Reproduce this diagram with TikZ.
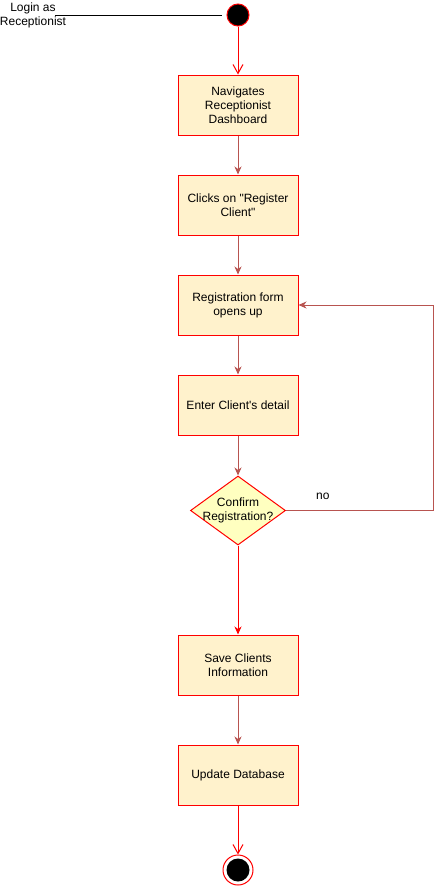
\documentclass[tikz,border=0pt]{standalone}
\usepackage{fontspec}
\setmainfont{Liberation Sans}[Ligatures=TeXOff]
\usepackage{tikz}
\usetikzlibrary{shapes.geometric, arrows.meta}
\definecolor{actfill}{HTML}{FFF2CC}
\definecolor{decfill}{HTML}{FFFFC0}
\definecolor{flowred}{HTML}{B85450}
\tikzset{
every node/.style={font=\fontsize{12pt}{14pt}\selectfont, align=center}, % default text for every node
action/.style={rectangle, draw=red, fill=actfill, line width=1pt, minimum width=120pt, minimum height=60pt, inner sep=0pt}, % activity boxes
decision/.style={diamond, draw=red, fill=decfill, line width=1pt, minimum width=95pt, minimum height=69pt, inner sep=0pt}, % the question
flow/.style={draw=flowred, line width=1pt, -{Stealth[length=8pt, width=7pt, inset=2.5pt]}}, % normal arrows
redflow/.style={draw=red, line width=1pt, -{Stealth[length=8pt, width=7pt, inset=2.5pt]}}, % red arrow after the question
openflow/.style={draw=red, line width=1pt, -{Straight Barb[length=9pt, width=10pt]}}, % open arrow heads
}

\begin{document}
\begin{tikzpicture}[x=1pt, y=-1pt]
\useasboundingbox (0, 0) rectangle (442, 886);

\node at (33, 15) (login) {Login as\\Receptionist};
\coordinate (loginline) at (55, 15);
\node[circle, draw=red, fill=black, line width=1pt, minimum size=22pt, inner sep=0pt] at (238, 15) (start) {};

\node[action] at (238, 105) (navigate) {Navigates\\Receptionist\\Dashboard};
\node[action] at (238, 205) (register) {Clicks on "Register\\Client"};
\node[action] at (238, 305) (form) {Registration form\\opens up};
\node[action] at (238, 405) (detail) {Enter Client's detail};
\node[decision, label={[align=center]center:Confirm\\Registration?}] at (238, 510.5) (confirm) {};
\node[action] at (238, 665) (save) {Save Clients\\Information};
\node[action] at (238, 775) (update) {Update Database};
\node[circle, draw=red, fill=white, line width=1pt, minimum size=30pt, inner sep=0pt,
  path picture={\fill[black] (path picture bounding box.center) circle (11.5pt);}] at (238, 870) (final) {};

\draw[line width=0.8pt, shorten >=5pt] (loginline) -- (start);
\draw[openflow] (start) -- (navigate);
\draw[flow] (navigate) -- (register);
\draw[flow] (register) -- (form);
\draw[flow] (form) -- (detail);
\draw[flow] (detail) -- (confirm);
\draw[redflow] (confirm) -- (save);
\draw[flow] (save) -- (update);
\draw[openflow] (update) -- (final);

\draw[flow] (confirm.east) -- node[pos=0.25, yshift=14pt] (no) {no} ++(147, 0) |- (form.east);

\end{tikzpicture}
\end{document}
